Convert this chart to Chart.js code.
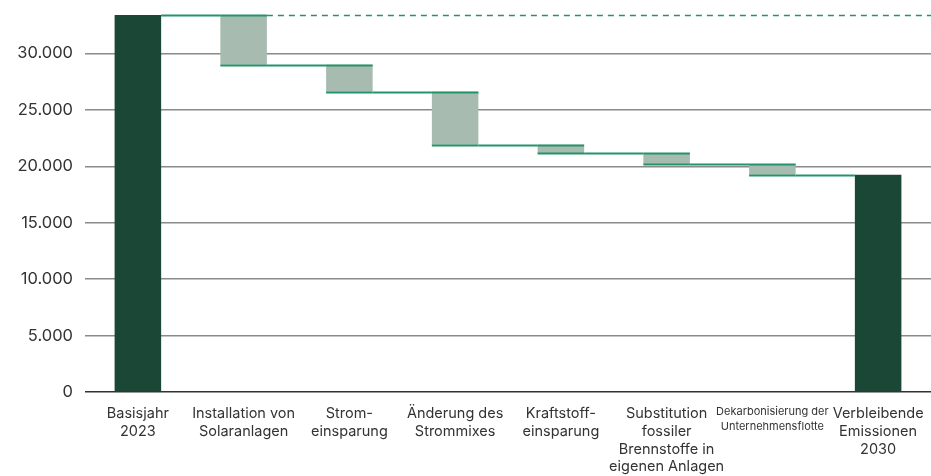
<!DOCTYPE html>
<html>
<head>
<meta charset="utf-8">
<script src="https://cdn.jsdelivr.net/npm/chart.js@4"></script>
<style>
  html, body { margin: 0; padding: 0; background: #fff; }
  #wrap { width: 931px; height: 476px; }
</style>
</head>
<body>
<div id="wrap"><canvas id="chart"></canvas></div>
<script>
// Emissionspfad bis 2030 (Wasserfall)
const LABELS = [
  ['Basisjahr', '2023'],
  ['Installation von', 'Solaranlagen'],
  ['Strom-', 'einsparung'],
  ['Änderung des', 'Strommixes'],
  ['Kraftstoff-', 'einsparung'],
  ['Substitution', 'fossiler', 'Brennstoffe in', 'eigenen Anlagen'],
  ['Dekarbonisierung der', 'Unternehmensflotte'],
  ['Verbleibende', 'Emissionen', '2030']
];
// start / end level of every step
const START = [0, 33400, 29000, 26600, 21900, 21150, 20200, 0];
const END   = [33400, 29000, 26600, 21900, 21150, 20200, 19250, 19250];
const TOTAL = [true, false, false, false, false, false, false, true];
const Y_TICKS = [0, 5000, 10000, 15000, 20000, 25000, 30000];

const C_DARK  = '#1b4736';
const C_LIGHT = '#a7bbb1';
const C_LINE  = '#22936a';
const C_GRID  = '#8a8a8a';
const C_TEXT  = '#333333';

const fmt = v => v.toLocaleString('de-DE');

// connectors + dashed baseline level
const connectors = {
  id: 'connectors',
  afterDatasetsDraw(chart) {
    const { ctx, chartArea } = chart;
    const y = chart.scales.y;
    const meta = chart.getDatasetMeta(0);
    ctx.save();
    ctx.strokeStyle = C_LINE;
    ctx.lineWidth = 2;
    for (let i = 0; i < meta.data.length; i++) {
      const bar = meta.data[i];
      const half = bar.width / 2;
      // top/bottom edges of step boxes
      if (!TOTAL[i]) {
        [START[i], END[i]].forEach(v => {
          const py = Math.round(y.getPixelForValue(v)) + 0.5;
          ctx.beginPath();
          ctx.moveTo(bar.x - half, py);
          ctx.lineTo(bar.x + half, py);
          ctx.stroke();
        });
      }
      // line to next bar
      if (i < meta.data.length - 1) {
        const next = meta.data[i + 1];
        const py = Math.round(y.getPixelForValue(END[i])) + 0.5;
        ctx.beginPath();
        ctx.moveTo(bar.x + half, py);
        ctx.lineTo(next.x - next.width / 2, py);
        ctx.stroke();
      }
    }
    // dashed reference of the base year
    const b1 = meta.data[1];
    const py = Math.round(y.getPixelForValue(END[0])) + 0.5;
    ctx.setLineDash([6, 5]);
    ctx.lineWidth = 1.5;
    ctx.beginPath();
    ctx.moveTo(b1.x + b1.width / 2, py);
    ctx.lineTo(chartArea.right, py);
    ctx.stroke();
    ctx.restore();
  }
};

new Chart(document.getElementById('chart'), {
  type: 'bar',
  data: {
    labels: LABELS,
    datasets: [{
      data: START.map((s, i) => [Math.min(s, END[i]), Math.max(s, END[i])]),
      backgroundColor: TOTAL.map(t => t ? C_DARK : C_LIGHT),
      borderWidth: 0,
      categoryPercentage: 1,
      barPercentage: 0.44
    }]
  },
  options: {
    responsive: true,
    maintainAspectRatio: false,
    animation: false,
    layout: { padding: { top: 15, right: 0, left: 0, bottom: 0 } },
    plugins: { legend: { display: false }, tooltip: { enabled: false } },
    scales: {
      x: {
        afterFit: axis => {
          axis.height = 84;
          axis.paddingLeft = 0;
          axis.paddingRight = 0;
        },
        grid: { display: false },
        border: { display: false },
        ticks: {
          color: C_TEXT,
          maxRotation: 0,
          autoSkip: false,
          padding: 5,
          font: ctx => ctx.index === 6
            ? { family: 'Inter', size: 11, lineHeight: 1.3 }
            : { family: 'Inter', size: 14.5, lineHeight: 1.22 }
        }
      },
      y: {
        min: 0,
        max: 33400,
        afterBuildTicks: axis => { axis.ticks = Y_TICKS.map(v => ({ value: v })); },
        afterFit: axis => {
          axis.width = 85;
          axis.paddingTop = 0;
          axis.paddingBottom = 0;
        },
        grid: {
          color: ctx => ctx.tick && ctx.tick.value === 0 ? '#333333' : C_GRID,
          lineWidth: 1.5,
          drawTicks: false
        },
        border: { display: false },
        ticks: {
          color: C_TEXT,
          padding: 12,
          font: { family: 'Inter', size: 16.5 },
          callback: v => fmt(v)
        }
      }
    }
  },
  plugins: [connectors]
});
</script>
</body>
</html>
